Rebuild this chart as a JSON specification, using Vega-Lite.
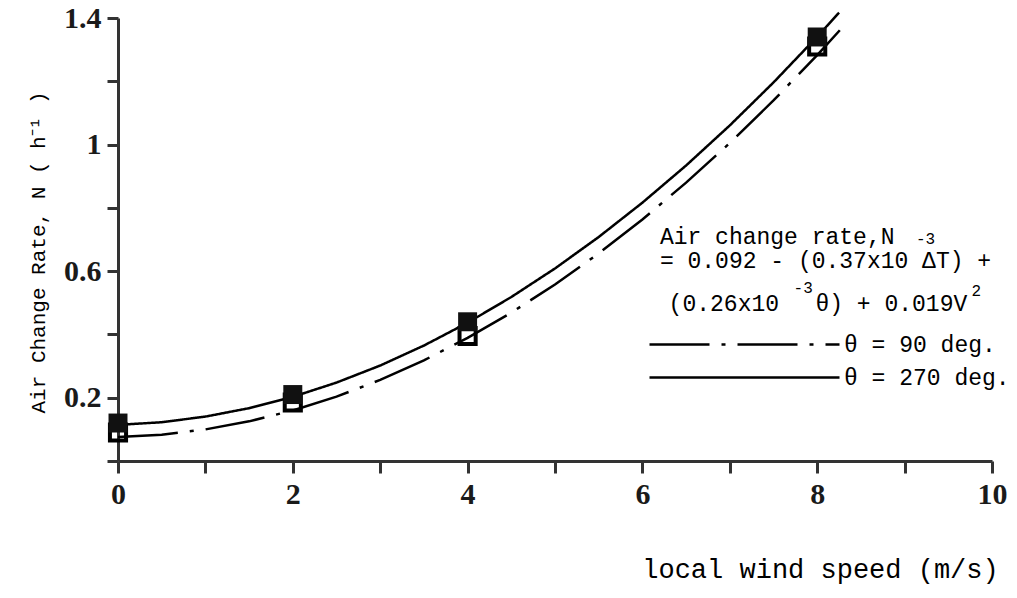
{
  "$schema": "https://vega.github.io/schema/vega-lite/v6.json",
  "width": 874,
  "height": 443,
  "autosize": {"type": "none"},
  "padding": {"left": 118, "top": 18, "right": 25, "bottom": 137},
  "background": "white",
  "config": {"view": {"stroke": null}, "font": "Liberation Mono"},
  "datasets": {
    "curves": [
      {"series": "θ = 270 deg.", "V": 0, "N": 0.114},
      {"series": "θ = 270 deg.", "V": 0.5, "N": 0.1226},
      {"series": "θ = 270 deg.", "V": 1, "N": 0.1403},
      {"series": "θ = 270 deg.", "V": 1.5, "N": 0.167},
      {"series": "θ = 270 deg.", "V": 2, "N": 0.2028},
      {"series": "θ = 270 deg.", "V": 2.5, "N": 0.2478},
      {"series": "θ = 270 deg.", "V": 3, "N": 0.3017},
      {"series": "θ = 270 deg.", "V": 3.5, "N": 0.3648},
      {"series": "θ = 270 deg.", "V": 4, "N": 0.437},
      {"series": "θ = 270 deg.", "V": 4.5, "N": 0.5182},
      {"series": "θ = 270 deg.", "V": 5, "N": 0.6085},
      {"series": "θ = 270 deg.", "V": 5.5, "N": 0.7079},
      {"series": "θ = 270 deg.", "V": 6, "N": 0.8164},
      {"series": "θ = 270 deg.", "V": 6.5, "N": 0.9339},
      {"series": "θ = 270 deg.", "V": 7, "N": 1.0605},
      {"series": "θ = 270 deg.", "V": 7.5, "N": 1.1963},
      {"series": "θ = 270 deg.", "V": 8, "N": 1.341},
      {"series": "θ = 270 deg.", "V": 8.25, "N": 1.4168},
      {"series": "θ = 90 deg.", "V": 0, "N": 0.076},
      {"series": "θ = 90 deg.", "V": 0.5, "N": 0.0833},
      {"series": "θ = 90 deg.", "V": 1, "N": 0.0998},
      {"series": "θ = 90 deg.", "V": 1.5, "N": 0.1253},
      {"series": "θ = 90 deg.", "V": 2, "N": 0.1598},
      {"series": "θ = 90 deg.", "V": 2.5, "N": 0.2035},
      {"series": "θ = 90 deg.", "V": 3, "N": 0.2562},
      {"series": "θ = 90 deg.", "V": 3.5, "N": 0.3181},
      {"series": "θ = 90 deg.", "V": 4, "N": 0.389},
      {"series": "θ = 90 deg.", "V": 4.5, "N": 0.4689},
      {"series": "θ = 90 deg.", "V": 5, "N": 0.558},
      {"series": "θ = 90 deg.", "V": 5.5, "N": 0.6561},
      {"series": "θ = 90 deg.", "V": 6, "N": 0.7634},
      {"series": "θ = 90 deg.", "V": 6.5, "N": 0.8797},
      {"series": "θ = 90 deg.", "V": 7, "N": 1.005},
      {"series": "θ = 90 deg.", "V": 7.5, "N": 1.1395},
      {"series": "θ = 90 deg.", "V": 8, "N": 1.283},
      {"series": "θ = 90 deg.", "V": 8.35, "N": 1.3889}
    ],
    "open": [
      {"V": 0, "N": 0.09},
      {"V": 2, "N": 0.185},
      {"V": 4, "N": 0.395},
      {"V": 8, "N": 1.31}
    ],
    "filled": [
      {"V": 0, "N": 0.12},
      {"V": 2, "N": 0.21},
      {"V": 4, "N": 0.44},
      {"V": 8, "N": 1.34}
    ],
    "eq": [
      {"V": 6.2, "N": 0.709, "t": "Air change rate,N"},
      {"V": 6.2, "N": 0.632, "t": "= 0.092 - (0.37x10 ΔT) +"},
      {"V": 6.3, "N": 0.497, "t": "(0.26x10"},
      {"V": 7.98, "N": 0.497, "t": "θ) + 0.019V"}
    ],
    "sup": [
      {"V": 9.24, "N": 0.702, "t": "-3"},
      {"V": 7.84, "N": 0.547, "t": "-3"},
      {"V": 9.82, "N": 0.537, "t": "2"}
    ]
  },
  "layer": [
    {
      "data": {"name": "curves"},
      "mark": {"type": "line", "color": "black", "strokeWidth": 2.5},
      "encoding": {
        "x": {
          "field": "V", "type": "quantitative",
          "scale": {"domain": [0, 10], "nice": false, "zero": false},
          "axis": {
            "values": [0, 1, 2, 3, 4, 5, 6, 7, 8, 9, 10],
            "format": "~g",
            "labelExpr": "datum.value % 2 == 0 ? datum.label : ''",
            "labelFont": "Liberation Serif",
            "labelFontWeight": "bold",
            "labelFontSize": 30,
            "labelColor": "#1a1a1a",
            "labelPadding": 6,
            "labelFlush": false,
            "tickSize": 12,
            "tickWidth": 3,
            "tickColor": "#333",
            "domainWidth": 3,
            "domainColor": "#333",
            "grid": false,
            "title": "local wind speed (m/s)",
            "titleFont": "Liberation Mono",
            "titleFontSize": 27,
            "titleFontWeight": "normal",
            "titleColor": "black",
            "titleX": 702,
            "titleY": 108,
            "titleAlign": "center",
            "titleBaseline": "middle"
          }
        },
        "y": {
          "field": "N", "type": "quantitative",
          "scale": {"domain": [0, 1.4], "nice": false, "zero": false},
          "axis": {
            "values": [0, 0.2, 0.4, 0.6, 0.8, 1, 1.2, 1.4],
            "format": "~g",
            "labelExpr": "round(datum.value*10) % 4 == 2 ? datum.label : ''",
            "labelFont": "Liberation Serif",
            "labelFontWeight": "bold",
            "labelFontSize": 30,
            "labelColor": "#1a1a1a",
            "labelPadding": 6,
            "labelFlush": false,
            "tickSize": 11,
            "tickWidth": 3,
            "tickColor": "#333",
            "domainWidth": 3,
            "domainColor": "#333",
            "grid": false,
            "title": "Air Change Rate, N ( h⁻¹ )",
            "titleFont": "Liberation Mono",
            "titleFontSize": 21,
            "titleFontWeight": "normal",
            "titleColor": "black",
            "titleAngle": -90,
            "titleX": -80,
            "titleY": 234,
            "titleAlign": "center",
            "titleBaseline": "middle"
          }
        },
        "strokeDash": {
          "field": "series", "type": "nominal",
          "scale": {"domain": ["θ = 90 deg.", "θ = 270 deg."], "range": [[60, 12, 4, 12], [1, 0]]},
          "legend": {
            "title": null,
            "orient": "none",
            "legendX": 530,
            "legendY": 311,
            "padding": 0,
            "symbolType": "stroke",
            "symbolSize": 36100,
            "symbolStrokeWidth": 2.5,
            "symbolStrokeColor": "black",
            "clipHeight": 31,
            "rowPadding": 2,
            "labelFont": "Liberation Mono",
            "labelFontSize": 23,
            "labelColor": "black",
            "labelOffset": 3,
            "labelLimit": 300
          }
        }
      }
    },
    {
      "data": {"name": "open"},
      "mark": {"type": "point", "shape": "square", "filled": false, "stroke": "black", "strokeWidth": 4, "size": 260, "opacity": 1},
      "encoding": {
        "x": {"field": "V", "type": "quantitative"},
        "y": {"field": "N", "type": "quantitative"}
      }
    },
    {
      "data": {"name": "filled"},
      "mark": {"type": "point", "shape": "square", "filled": true, "color": "#111", "size": 360, "opacity": 1},
      "encoding": {
        "x": {"field": "V", "type": "quantitative"},
        "y": {"field": "N", "type": "quantitative"}
      }
    },
    {
      "data": {"name": "eq"},
      "mark": {"type": "text", "align": "left", "baseline": "middle", "font": "Liberation Mono", "fontSize": 23, "color": "black"},
      "encoding": {
        "x": {"field": "V", "type": "quantitative"},
        "y": {"field": "N", "type": "quantitative"},
        "text": {"field": "t", "type": "nominal"}
      }
    },
    {
      "data": {"name": "sup"},
      "mark": {"type": "text", "align": "center", "baseline": "middle", "font": "Liberation Mono", "fontSize": 16, "color": "black"},
      "encoding": {
        "x": {"field": "V", "type": "quantitative"},
        "y": {"field": "N", "type": "quantitative"},
        "text": {"field": "t", "type": "nominal"}
      }
    }
  ]
}
